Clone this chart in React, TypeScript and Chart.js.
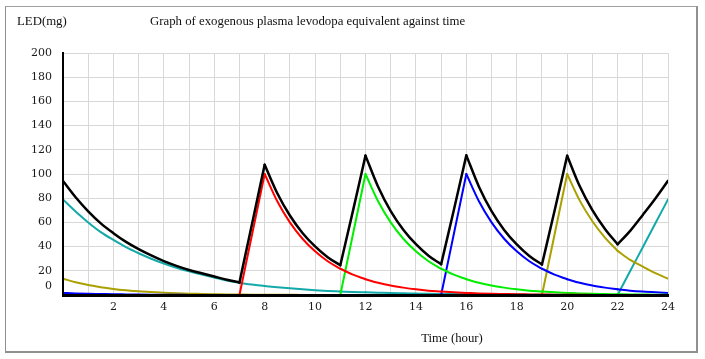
import React, { useEffect, useRef } from 'react';
import { Chart, registerables } from 'chart.js';

Chart.register(...registerables);

// Time axis (hours)
const hours = [0, 0.5, 1, 1.5, 2, 2.5, 3, 3.5, 4, 4.5, 5, 5.5, 6, 6.5, 7, 7.5, 8, 8.5, 9, 9.5, 10, 10.5, 11, 11.5, 12, 12.5, 13, 13.5, 14, 14.5, 15, 15.5, 16, 16.5, 17, 17.5, 18, 18.5, 19, 19.5, 20, 20.5, 21, 21.5, 22, 22.5, 23, 23.5, 24];

// Hours where the curves have a corner (dose start / peak)
const cornerHours = [0, 7, 8, 11, 12, 15, 16, 19, 20, 22, 24];

// Total plasma levodopa equivalent (black)
const totalLED = [94.2, 80.8, 69.2, 59.2, 51.1, 43.9, 37.9, 32.7, 28.0, 24.1, 20.7, 18.0, 15.3, 12.6, 10.4, 58.9, 107.7, 84.1, 65.7, 51.3, 40.2, 31.3, 24.6, 69.3, 115.2, 89.5, 69.4, 54.0, 42.0, 32.5, 25.4, 69.8, 115.4, 89.5, 69.3, 53.8, 41.8, 32.3, 25.2, 69.6, 115.1, 89.8, 70.1, 54.6, 41.9, 53.0, 66.2, 79.8, 94.4];

// Dose at 07:00 (red)
const doseRed = [0, 0, 0, 0, 0, 0, 0, 0, 0, 0, 0, 0, 0, 0, 0, 50, 100, 77.5, 60, 46.5, 36.1, 27.9, 21.7, 16.8, 13, 10.1, 7.8, 6.1, 4.7, 3.6, 2.8, 2.2, 1.7, 1.3, 1, 0.8, 0.6, 0.5, 0.4, 0.3, 0.2, 0.2, 0.1, 0.1, 0.1, 0.1, 0, 0, 0];

// Dose at 11:00 (green)
const doseGreen = [0, 0, 0, 0, 0, 0, 0, 0, 0, 0, 0, 0, 0, 0, 0, 0, 0, 0, 0, 0, 0, 0, 0, 50, 100, 77.5, 60, 46.5, 36.1, 27.9, 21.7, 16.8, 13, 10.1, 7.8, 6.1, 4.7, 3.6, 2.8, 2.2, 1.7, 1.3, 1, 0.8, 0.6, 0.5, 0.4, 0.3, 0.2];

// Dose at 15:00 (blue)
const doseBlue = [1.7, 1.3, 1, 0.8, 0.6, 0.5, 0.4, 0.3, 0.2, 0.2, 0.1, 0.1, 0.1, 0.1, 0, 0, 0, 0, 0, 0, 0, 0, 0, 0, 0, 0, 0, 0, 0, 0, 0, 50, 100, 77.5, 60, 46.5, 36.1, 27.9, 21.7, 16.8, 13, 10.1, 7.8, 6.1, 4.7, 3.6, 2.8, 2.2, 1.7];

// Dose at 19:00 (olive)
const doseOlive = [13.5, 10.5, 8.2, 6.4, 5.0, 3.9, 3.0, 2.4, 1.8, 1.4, 1.1, 0.9, 0.7, 0.5, 0.4, 0.3, 0.25, 0.2, 0.15, 0.1, 0.1, 0, 0, 0, 0, 0, 0, 0, 0, 0, 0, 0, 0, 0, 0, 0, 0, 0, 0, 50, 100, 78, 61, 47.5, 36.5, 29, 23.5, 18, 13.5];

// Night dose at 22:00 (teal)
const doseTeal = [79, 69, 60, 52, 45.5, 39.5, 34.5, 30, 26, 22.5, 19.5, 17, 14.5, 12, 10, 8.6, 7.4, 6.4, 5.5, 4.7, 4, 3.4, 2.9, 2.5, 2.2, 1.9, 1.6, 1.4, 1.2, 1, 0.9, 0.8, 0.7, 0.6, 0.5, 0.4, 0.4, 0.3, 0.3, 0.3, 0.2, 0.2, 0.2, 0.1, 0, 19.8, 39.5, 59.3, 79];

const xLabelHours = [2, 4, 6, 8, 10, 12, 14, 16, 18, 20, 22, 24];

const serif = '"Liberation Serif", "Times New Roman", serif';

export default function App() {
  const ref = useRef<HTMLCanvasElement>(null);

  useEffect(() => {
    const canvas = ref.current;
    if (!canvas) return;

    // split a series at the corner hours so that each smooth piece is drawn
    // with monotone interpolation and the corners stay sharp
    const piecesOf = (label: string, arr: number[], color: string, width: number) => {
      const out: any[] = [];
      for (let k = 0; k < cornerHours.length - 1; k++) {
        const a = hours.indexOf(cornerHours[k]);
        const b = hours.indexOf(cornerHours[k + 1]);
        const data = hours.slice(a, b + 1).map((h, j) => ({ x: h, y: arr[a + j] }));
        out.push({
          label,
          data,
          borderColor: color,
          backgroundColor: color,
          borderWidth: width,
          borderCapStyle: 'round',
          borderJoinStyle: 'round',
          pointRadius: 0,
          pointHoverRadius: 0,
          cubicInterpolationMode: 'monotone',
          fill: false,
        });
      }
      return out;
    };

    const tickFont = { family: '"DejaVu Serif", serif', size: 11 };

    const chart = new Chart(canvas, {
      type: 'line',
      data: {
        datasets: [
          ...piecesOf('Total', totalLED, '#000000', 2.5),
          ...piecesOf('Dose 7h', doseRed, '#ff0000', 2),
          ...piecesOf('Dose 11h', doseGreen, '#00ee00', 2),
          ...piecesOf('Dose 15h', doseBlue, '#0000ff', 2),
          ...piecesOf('Dose 19h', doseOlive, '#aaa000', 2),
          ...piecesOf('Dose 22h', doseTeal, '#14a9a9', 2),
        ],
      },
      options: {
        responsive: false,
        animation: false,
        devicePixelRatio: 1,
        events: [],
        layout: { padding: { top: 53, right: 37, left: 0, bottom: 0 } },
        plugins: { legend: { display: false }, tooltip: { enabled: false }, title: { display: false } },
        scales: {
          x: {
            type: 'linear',
            min: 0,
            max: 24,
            afterFit: (s: any) => { s.height = 64; },
            ticks: {
              stepSize: 1,
              autoSkip: false,
              maxRotation: 0,
              minRotation: 0,
              padding: 6,
              color: '#1a1a1a',
              font: tickFont,
              callback: (v: any) => (xLabelHours.includes(Number(v)) ? String(v) : ''),
            },
            grid: { color: '#d8d8d8', lineWidth: 1, drawTicks: false },
            border: { color: '#000000', width: 3, z: 1 },
          },
          y: {
            type: 'linear',
            min: 0,
            max: 200,
            afterFit: (s: any) => { s.width = 63; },
            ticks: {
              stepSize: 20,
              autoSkip: false,
              padding: 11,
              color: '#1a1a1a',
              font: (c: any) => ({ ...tickFont, lineHeight: c.tick && c.tick.value === 0 ? '18px' : 1.2 }),
              callback: (v: any) => (Number(v) === 0 ? ['0', ''] : String(v)),
            },
            grid: { color: '#d8d8d8', lineWidth: 1, drawTicks: false },
            border: { color: '#000000', width: 2, z: 1 },
          },
        },
      } as any,
    });
    return () => chart.destroy();
  }, []);

  const textBase: React.CSSProperties = {
    position: 'absolute',
    fontFamily: serif,
    fontSize: 12.8,
    lineHeight: '16px',
    color: '#111',
    whiteSpace: 'nowrap',
  };

  return (
    <div style={{ position: 'absolute', left: 0, top: 0, width: 705, height: 359, background: '#fff' }}>
      <div
        style={{
          position: 'absolute',
          left: 5,
          top: 6,
          width: 693,
          height: 347,
          boxSizing: 'border-box',
          borderTop: '1px solid #a0a0a0',
          borderLeft: '1px solid #909090',
          borderRight: '2px solid #909090',
          borderBottom: '2px solid #909090',
        }}
      />
      <canvas ref={ref} width={705} height={359} style={{ position: 'absolute', left: 0, top: 0, width: 705, height: 359 }} />
      <div style={{ ...textBase, left: 17, top: 13 }}>LED(mg)</div>
      <div style={{ ...textBase, left: 150, top: 13 }}>Graph of exogenous plasma levodopa equivalent against time</div>
      <div style={{ ...textBase, left: 402, top: 330, width: 100, textAlign: 'center' }}>Time (hour)</div>
    </div>
  );
}
